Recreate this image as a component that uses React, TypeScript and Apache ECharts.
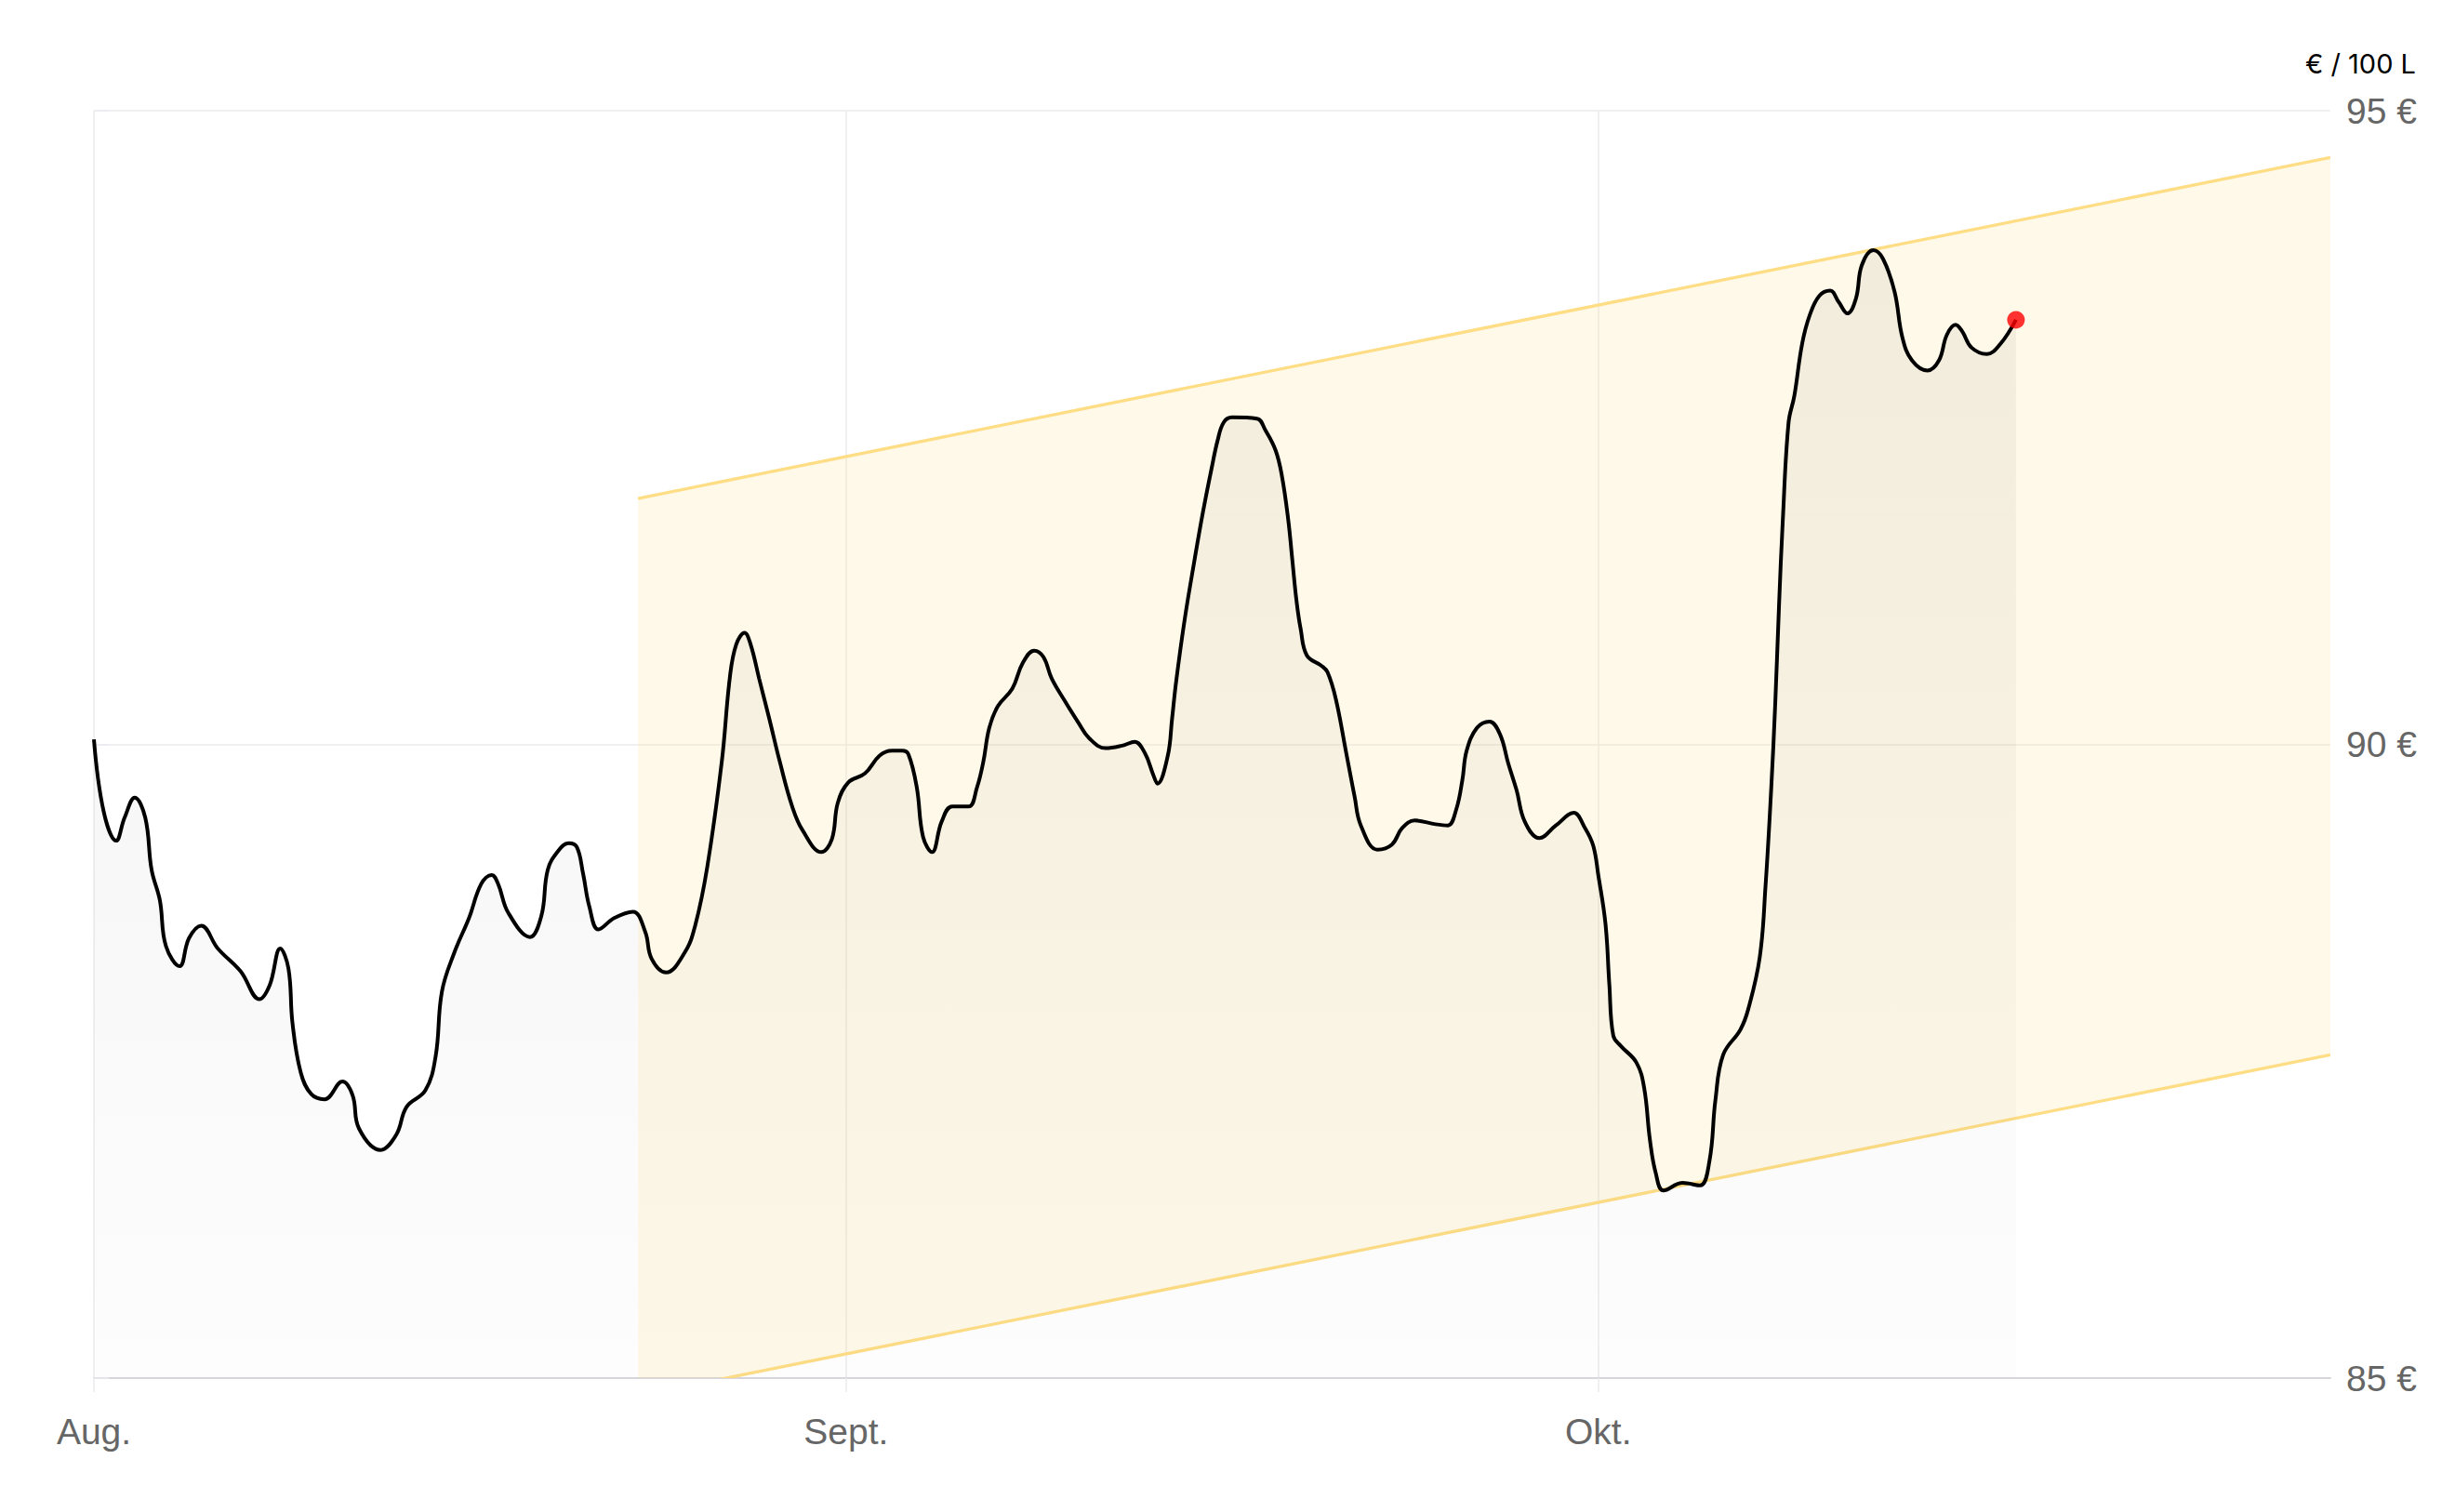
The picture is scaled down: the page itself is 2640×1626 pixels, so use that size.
import React, { useEffect, useRef } from "react";
import * as echarts from "echarts";

// x position in "days" (each month spans 30 units on this axis)
const dayPos = [0, 0.39, 0.89, 1.22, 1.63, 2.05, 2.3, 2.63, 2.87, 3.42, 3.79, 4.28, 4.94, 5.85, 6.6, 7.01, 7.43, 7.76, 7.92, 8.25, 8.67, 9.2, 9.91, 10.32, 10.57, 11.43, 12.06, 12.47, 13.22, 13.63, 13.88, 14.38, 14.96, 15.45, 15.87, 16.12, 16.53, 17.39, 17.85, 18.1, 18.52, 18.93, 19.26, 19.51, 19.76, 20.12, 20.75, 21.5, 21.99, 22.24, 22.82, 23.57, 23.98, 24.46, 25.04, 25.37, 25.62, 25.95, 26.19, 26.53, 26.94, 27.36, 27.85, 28.27, 29.01, 29.43, 29.67, 30.09, 30.75, 31.33, 31.83, 32.24, 32.49, 32.82, 33.07, 33.43, 33.81, 34.23, 34.89, 35.22, 35.47, 35.71, 36.05, 36.63, 37.04, 37.5, 37.87, 38.2, 38.7, 39.27, 39.69, 40.35, 41.01, 41.51, 41.92, 42.25, 42.42, 42.83, 43.0, 43.16, 43.5, 43.91, 44.24, 44.57, 44.82, 45.06, 45.39, 46.39, 46.72, 47.13, 47.38, 47.63, 47.8, 47.96, 48.13, 48.38, 48.96, 49.2, 49.53, 49.95, 50.28, 50.53, 51.19, 51.77, 52.18, 52.68, 53.51, 54.0, 54.34, 54.58, 54.75, 55.16, 55.66, 56.08, 56.41, 56.74, 57.07, 57.65, 58.31, 59.02, 59.47, 59.8, 60.0, 60.29, 60.44, 60.6, 60.9, 61.52, 61.83, 62.06, 62.29, 62.6, 63.36, 64.06, 64.44, 64.67, 64.98, 65.67, 65.98, 66.44, 66.67, 66.9, 67.06, 67.21, 67.36, 67.59, 67.82, 68.13, 68.44, 68.82, 69.25, 69.59, 69.94, 70.28, 70.51, 70.97, 71.36, 71.82, 72.13, 72.51, 73.13, 73.59, 73.9, 74.25, 74.51, 74.89, 75.5, 76.04, 76.66];

const prices = [90.04, 89.47, 89.24, 89.42, 89.58, 89.42, 89.01, 88.77, 88.41, 88.25, 88.47, 88.57, 88.39, 88.21, 87.99, 88.1, 88.39, 88.23, 87.8, 87.41, 87.24, 87.2, 87.34, 87.23, 86.97, 86.8, 86.92, 87.14, 87.27, 87.54, 88.05, 88.36, 88.63, 88.9, 88.97, 88.9, 88.67, 88.48, 88.65, 89.01, 89.16, 89.22, 89.19, 88.98, 88.72, 88.54, 88.63, 88.68, 88.52, 88.31, 88.2, 88.36, 88.57, 89.03, 89.86, 90.54, 90.79, 90.88, 90.79, 90.52, 90.2, 89.86, 89.51, 89.32, 89.15, 89.25, 89.54, 89.7, 89.77, 89.91, 89.95, 89.95, 89.92, 89.66, 89.27, 89.15, 89.39, 89.51, 89.51, 89.66, 89.86, 90.13, 90.3, 90.44, 90.64, 90.74, 90.69, 90.52, 90.35, 90.17, 90.05, 89.97, 89.99, 90.02, 89.93, 89.76, 89.69, 89.91, 90.2, 90.49, 90.98, 91.47, 91.84, 92.17, 92.4, 92.54, 92.58, 92.57, 92.48, 92.32, 92.12, 91.78, 91.45, 91.14, 90.91, 90.7, 90.62, 90.57, 90.36, 89.93, 89.59, 89.36, 89.17, 89.21, 89.34, 89.4, 89.37, 89.36, 89.49, 89.72, 89.95, 90.13, 90.18, 90.08, 89.85, 89.64, 89.39, 89.26, 89.36, 89.46, 89.34, 89.2, 88.97, 88.58, 88.11, 87.7, 87.62, 87.49, 87.29, 86.88, 86.62, 86.48, 86.54, 86.52, 86.72, 87.19, 87.55, 87.75, 87.91, 88.32, 88.88, 89.66, 90.33, 91.1, 91.77, 92.54, 92.75, 93.16, 93.39, 93.54, 93.58, 93.49, 93.4, 93.52, 93.78, 93.9, 93.83, 93.57, 93.21, 93.03, 92.95, 93.03, 93.23, 93.31, 93.26, 93.13, 93.08, 93.16, 93.35];

const monthTicks = [0, 30, 60];
const monthLabels = ["Aug.", "Sept.", "Okt."];
const axisMaxDay = 89.2;
const yMin = 85;
const yMax = 95;
const yStep = 5;

// trend channel
const bandDays = [21.7, 89.2];
const bandLower = [84.86, 87.55];
const bandUpper = [91.94, 94.63];

const unitLabel = "€ / 100 L";

export default function App() {
  const ref = useRef<HTMLDivElement>(null);

  useEffect(() => {
    document.body.style.margin = "0";
    const chart = echarts.init(ref.current as HTMLDivElement, null, { renderer: "svg" });
    const priceData = dayPos.map((d, i) => [d, prices[i]]);
    const last = priceData[priceData.length - 1];
    const gridColor = "#ebebef";
    const bandLine = "#fedd85";

    chart.setOption({
      animation: false,
      grid: { left: 101, right: 134, top: 119, bottom: 144 },
      graphic: [
        {
          type: "text",
          x: 2598,
          y: 68,
          style: {
            text: unitLabel,
            align: "right",
            verticalAlign: "middle",
            fill: "#000",
            fontSize: 29,
            fontFamily: "Inter, Roboto, sans-serif",
          },
        },
      ],
      xAxis: {
        type: "value",
        min: 0,
        max: axisMaxDay,
        interval: 30,
        axisLine: { show: true, lineStyle: { color: "#d6d6dc", width: 2 } },
        axisTick: {
          show: true,
          length: 15,
          customValues: monthTicks,
          lineStyle: { color: gridColor, width: 1.5 },
        },
        axisLabel: {
          customValues: monthTicks,
          formatter: (v: number) => {
            const i = monthTicks.indexOf(v);
            return i >= 0 ? monthLabels[i] : "";
          },
          color: "#666",
          fontSize: 39,
          fontFamily: "Liberation Sans, Arial, sans-serif",
          margin: 38,
        },
        splitLine: { show: true, lineStyle: { color: gridColor, width: 1.5 } },
      },
      yAxis: {
        type: "value",
        position: "right",
        min: yMin,
        max: yMax,
        interval: yStep,
        axisLine: { show: false },
        axisTick: { show: true, length: 16, lineStyle: { color: gridColor, width: 1.5 } },
        axisLabel: {
          formatter: (v: number) => `${v} €`,
          color: "#666",
          fontSize: 39,
          fontFamily: "Liberation Sans, Arial, sans-serif",
          margin: 17,
        },
        splitLine: { show: true, lineStyle: { color: gridColor, width: 1.5 } },
      },
      series: [
        {
          type: "custom",
          clip: true,
          silent: true,
          z: 1,
          data: bandDays.map((d, i) => [d, bandLower[i], bandUpper[i]]),
          encode: { x: 0, y: [1, 2] },
          renderItem: (params: any, api: any) => {
            if (params.dataIndex !== 0) return null;
            const upper = bandDays.map((d, i) => api.coord([d, bandUpper[i]]));
            const lower = bandDays.map((d, i) => api.coord([d, bandLower[i]]));
            const poly = upper.concat(lower.slice().reverse());
            return {
              type: "group",
              children: [
                {
                  type: "polygon",
                  shape: { points: poly },
                  style: { fill: "rgba(253, 224, 139, 0.19)", stroke: "none" },
                },
                {
                  type: "polyline",
                  shape: { points: upper },
                  style: { fill: "none", stroke: bandLine, lineWidth: 3.3 },
                },
                {
                  type: "polyline",
                  shape: { points: lower },
                  style: { fill: "none", stroke: bandLine, lineWidth: 3.3 },
                },
              ],
            };
          },
        },
        {
          type: "line",
          data: priceData,
          smooth: 0.4,
          symbol: "none",
          silent: true,
          lineStyle: { color: "#000", width: 4 },
          areaStyle: {
            color: new echarts.graphic.LinearGradient(0, 0, 0, 1, [
              { offset: 0, color: "rgba(0,0,0,0.075)" },
              { offset: 1, color: "rgba(0,0,0,0.012)" },
            ]),
          },
          z: 3,
        },
        {
          type: "scatter",
          data: [last],
          symbolSize: 19,
          silent: true,
          itemStyle: { color: "#ff0000" },
          z: 5,
        },
      ],
    });

    return () => chart.dispose();
  }, []);

  return <div ref={ref} style={{ width: 2640, height: 1626 }} />;
}
